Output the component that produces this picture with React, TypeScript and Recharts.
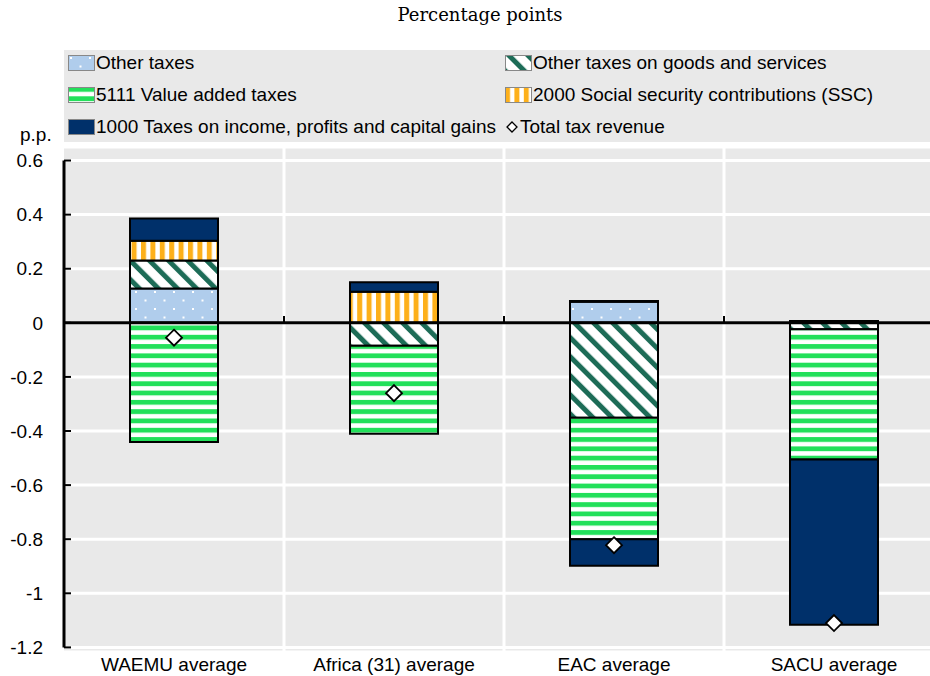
import React from 'react';
import { ComposedChart, Bar, Scatter, XAxis, YAxis, CartesianGrid, ReferenceLine } from 'recharts';

const categories = ['WAEMU average', 'Africa (31) average', 'EAC average', 'SACU average'];
const otherTaxes = [0.127, 0, 0.078, 0.007];
const otherGoods = [0.103, -0.085, -0.351, -0.024];
const vat = [-0.441, -0.325, -0.449, -0.481];
const ssc = [0.073, 0.115, 0.003, 0];
const income = [0.083, 0.035, -0.098, -0.611];
const total = [-0.055, -0.26, -0.822, -1.11];
const yTicks = [-1.2, -1, -0.8, -0.6, -0.4, -0.2, 0, 0.2, 0.4, 0.6];

const NAVY = '#00306a';
const GREEN = '#22e05a';
const ORANGE = '#fdb01a';
const DKGREEN = '#1d6c57';
const LBLUE = '#b0cdec';

const series = [
  { key: 'otherTaxes', name: 'Other taxes', pat: 'patOther' },
  { key: 'otherGoods', name: 'Other taxes on goods and services', pat: 'patGoods' },
  { key: 'vat', name: '5111 Value added taxes', pat: 'patVat' },
  { key: 'ssc', name: '2000 Social security contributions (SSC)', pat: 'patSsc' },
  { key: 'income', name: '1000 Taxes on income, profits and capital gains', pat: 'patIncome' },
];
const legendOrder = ['otherTaxes', 'otherGoods', 'vat', 'ssc', 'income'];

const data = categories.map((name, i) => ({
  name,
  otherTaxes: otherTaxes[i],
  otherGoods: otherGoods[i],
  vat: vat[i],
  ssc: ssc[i],
  income: income[i],
  total: total[i],
}));

const Patterns = ({ p }: { p: string }) => (
  <defs>
    <pattern id={p + 'patOther'} patternUnits="userSpaceOnUse" width={19} height={17}>
      <rect width={19} height={17} fill={LBLUE} />
      <rect x={2} y={2} width={2} height={2} fill="#fff" />
      <rect x={11.5} y={10.5} width={2} height={2} fill="#fff" />
    </pattern>
    <pattern id={p + 'patGoods'} patternUnits="userSpaceOnUse" width={13.5} height={13.5} patternTransform="rotate(-45)">
      <rect width={13.5} height={13.5} fill="#fff" />
      <rect x={0} y={0} width={5} height={13.5} fill={DKGREEN} />
    </pattern>
    <pattern id={p + 'patVat'} patternUnits="userSpaceOnUse" width={10} height={9.3}>
      <rect width={10} height={9.3} fill="#fff" />
      <rect x={0} y={0} width={10} height={4.8} fill={GREEN} />
    </pattern>
    <pattern id={p + 'patSsc'} patternUnits="userSpaceOnUse" width={9.4} height={10}>
      <rect width={9.4} height={10} fill="#fff" />
      <rect x={0} y={0} width={5} height={10} fill={ORANGE} />
    </pattern>
    <pattern id={p + 'patIncome'} patternUnits="userSpaceOnUse" width={10} height={10}>
      <rect width={10} height={10} fill={NAVY} />
    </pattern>
  </defs>
);

const Diamond = (props: any) => {
  const { cx, cy } = props;
  if (cx == null || cy == null) return null;
  const r = 8;
  return (
    <polygon
      points={`${cx},${cy - r} ${cx + r},${cy} ${cx},${cy + r} ${cx - r},${cy}`}
      fill="#fff"
      stroke="#000"
      strokeWidth={1.8}
    />
  );
};

// short inward tick drawn from the left end of a reference line
const InwardTick = (props: any) => {
  const { x1, y1 } = props;
  if (x1 == null || y1 == null) return null;
  return <line x1={x1} x2={x1 + 7} y1={y1} y2={y1} stroke="#000" strokeWidth={2} />;
};

const FONT = '"Liberation Sans", Arial, sans-serif';

const LegendBox = () => {
  const items = legendOrder.map((k) => series.find((s) => s.key === k)!);
  const cell = (s: any, left: number, top: number) => (
    <div key={s.key} style={{ position: 'absolute', left, top, display: 'flex', alignItems: 'center', height: 20 }}>
      <svg width={27} height={16} style={{ display: 'block' }}>
        <Patterns p={'lg' + s.key} />
        <rect x={0.5} y={0.5} width={26} height={15} fill={`url(#lg${s.key}${s.pat})`} stroke="#888" strokeWidth={1} />
      </svg>
      <span style={{ marginLeft: 1, whiteSpace: 'nowrap' }}>{s.name}</span>
    </div>
  );
  return (
    <div
      style={{
        position: 'absolute',
        left: 64,
        top: 50,
        width: 866,
        height: 92,
        background: '#e9e9e9',
        fontFamily: FONT,
        fontSize: 19,
        color: '#000',
      }}
    >
      {cell(items[0], 4, 3)}
      {cell(items[1], 441, 3)}
      {cell(items[2], 4, 35)}
      {cell(items[3], 441, 35)}
      {cell(items[4], 4, 67)}
      <div style={{ position: 'absolute', left: 441, top: 67, display: 'flex', alignItems: 'center', height: 20 }}>
        <svg width={14} height={16} style={{ display: 'block' }}>
          <polygon points="7,3 12,8 7,13 2,8" fill="#fff" stroke="#000" strokeWidth={1.3} />
        </svg>
        <span style={{ marginLeft: 1, whiteSpace: 'nowrap' }}>Total tax revenue</span>
      </div>
    </div>
  );
};

export default function App() {
  return (
    <div
      style={{
        position: 'absolute',
        left: 0,
        top: 0,
        width: 930,
        height: 676,
        overflow: 'hidden',
        background: '#fff',
        fontFamily: FONT,
      }}
    >
      <div
        style={{
          position: 'absolute',
          left: 0,
          top: 3,
          width: 960,
          textAlign: 'center',
          fontFamily: '"DejaVu Serif", serif',
          fontSize: 18,
          color: '#000',
          lineHeight: '24px',
        }}
      >
        Percentage points
      </div>
      <div style={{ position: 'absolute', left: 20, top: 124, fontFamily: FONT, fontSize: 19, color: '#000' }}>p.p.</div>
      <LegendBox />
      <div style={{ position: 'absolute', left: 0, top: 0 }}>
        <ComposedChart
          width={950}
          height={690}
          data={data}
          stackOffset="sign"
          margin={{ top: 147, right: 6, bottom: 0, left: 0 }}
        >
          <Patterns p="ch" />
          <CartesianGrid vertical={false} stroke="#fff" strokeWidth={3} fill="#e9e9e9" />
          <XAxis
            dataKey="name"
            height={38}
            tickLine={false}
            axisLine={false}
            tickSize={6}
            tickMargin={0}
            interval={0}
            tick={{ fill: '#000', fontSize: 19, fontFamily: FONT }}
          />
          <YAxis
            domain={[-1.217, 0.65]}
            ticks={yTicks}
            width={64}
            tickLine={false}
            axisLine={false}
            tickSize={6}
            tickMargin={15}
            allowDataOverflow
            tick={{ fill: '#000', fontSize: 19, fontFamily: FONT }}
          />
          {categories.slice(1).map((c) => (
            <ReferenceLine key={'g' + c} x={c} position="start" stroke="#fff" strokeWidth={3} />
          ))}
          {series.map((s) => (
            <Bar
              key={s.key}
              dataKey={s.key}
              name={s.name}
              stackId="a"
              fill={`url(#ch${s.pat})`}
              stroke="#000"
              strokeWidth={2}
              barSize={88}
              isAnimationActive={false}
            />
          ))}
          <ReferenceLine y={0} stroke="#000" strokeWidth={3} />
          <ReferenceLine
            segment={[{ x: categories[0], y: -1.2 }, { x: categories[0], y: 0.6 }]}
            position="start"
            stroke="#000"
            strokeWidth={3}
          />
          {yTicks.map((t) => (
            <ReferenceLine key={'t' + t} y={t} stroke="#000" shape={<InwardTick />} />
          ))}
          {categories.slice(1).map((c) => (
            <ReferenceLine
              key={'c' + c}
              segment={[{ x: c, y: 0 }, { x: c, y: 0.025 }]}
              position="start"
              stroke="#000"
              strokeWidth={2}
            />
          ))}
          <Scatter dataKey="total" name="Total tax revenue" shape={<Diamond />} isAnimationActive={false} />
        </ComposedChart>
      </div>
    </div>
  );
}
